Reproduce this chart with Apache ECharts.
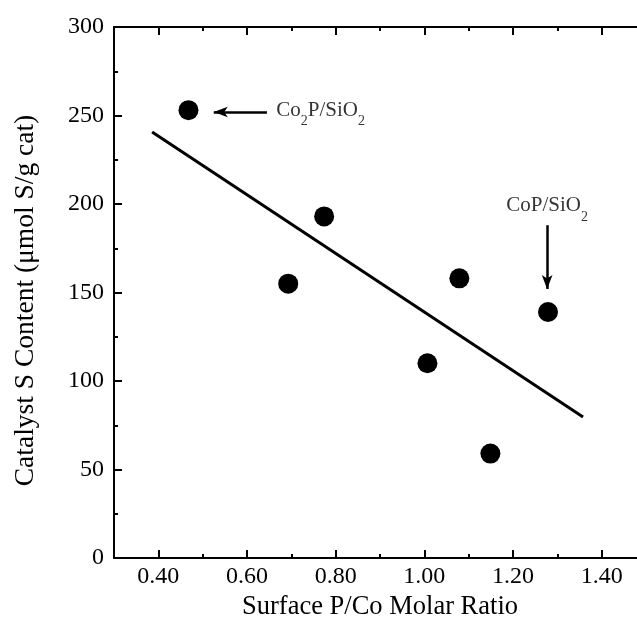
<!DOCTYPE html>
<html>
<head>
<meta charset="utf-8">
<script src="https://cdn.jsdelivr.net/npm/echarts@6/dist/echarts.min.js"></script>
<style>
html,body{margin:0;padding:0;background:#fff;}
#chart{width:637px;height:630px;}
</style>
</head>
<body>
<div id="chart"></div>
<script>
// ---- data ----
const ratioX = [0.468, 0.693, 0.774, 1.007, 1.079, 1.149, 1.279];
const sulfurY = [253, 155, 193, 110, 158, 59, 139];
const fitX = [0.386, 1.358];
const fitY = [240.7, 79.7];
const xMajorTicks = [0.40, 0.60, 0.80, 1.00, 1.20, 1.40];
const xMinorTicks = [0.50, 0.70, 0.90, 1.10, 1.30];
const xRange = [0.30, 1.50];
const yRange = [0, 300];
const yStep = 50;
const co2pLabelPos = [0.666, 253];
const co2pArrow = [[0.645, 252], [0.525, 252]];
const copLabelPos = [1.277, 199];
const copArrow = [[1.277, 188], [1.277, 152]];

const FONT = 'Liberation Serif';
const BLACK = '#000';

const chart = echarts.init(document.getElementById('chart'), null, {renderer: 'canvas'});

function xAxisDef(pos, ticks, len, showLine, showLabel) {
  return {
    type: 'value', gridIndex: 0, position: pos,
    min: xRange[0], max: xRange[1],
    axisLine: {show: showLine, onZero: false, lineStyle: {color: BLACK, width: 2}},
    axisTick: {show: true, inside: true, length: len, customValues: ticks, lineStyle: {color: BLACK, width: 2}},
    axisLabel: {show: showLabel, customValues: ticks, formatter: v => v.toFixed(2),
      color: BLACK, fontFamily: FONT, fontSize: 24, margin: 7},
    splitLine: {show: false}
  };
}

const xAxes = [
  Object.assign(xAxisDef('bottom', xMajorTicks, 8, true, true), {
    name: 'Surface P/Co Molar Ratio', nameLocation: 'middle', nameGap: 36,
    nameTextStyle: {color: BLACK, fontFamily: FONT, fontSize: 26.5}
  }),
  xAxisDef('bottom', xMinorTicks, 4, false, false),
  xAxisDef('top', xMajorTicks, 8, true, false),
  xAxisDef('top', xMinorTicks, 4, false, false)
];

function yAxisDef(pos, showLabel) {
  return {
    type: 'value', gridIndex: 0, position: pos,
    min: yRange[0], max: yRange[1], interval: yStep,
    axisLine: {show: true, onZero: false, lineStyle: {color: BLACK, width: 2}},
    axisTick: {show: true, inside: true, length: 8, lineStyle: {color: BLACK, width: 2}},
    minorTick: {show: true, splitNumber: 2, length: 4, lineStyle: {color: BLACK, width: 2}},
    axisLabel: {show: showLabel, color: BLACK, fontFamily: FONT, fontSize: 24, margin: 10},
    splitLine: {show: false}, minorSplitLine: {show: false}
  };
}

const yAxes = [
  Object.assign(yAxisDef('left', true), {
    name: 'Catalyst S Content (\u03bcmol S/g cat)', nameLocation: 'middle', nameGap: 74,
    nameTextStyle: {color: BLACK, fontFamily: FONT, fontSize: 27.5, padding: [0, 16, 0, 0]}
  }),
  yAxisDef('right', false)
];

const richText = {
  n: {fontFamily: FONT, fontSize: 21, color: BLACK},
  s: {fontFamily: FONT, fontSize: 14, color: BLACK, verticalAlign: 'bottom', padding: [0, 0, -8, 0]}
};

chart.setOption({
  animation: false,
  backgroundColor: '#fff',
  grid: {left: 114, top: 27, width: 532, height: 531, containLabel: false, outerBoundsMode: 'none'},
  xAxis: xAxes,
  yAxis: yAxes,
  series: [
    {
      name: 'fit', type: 'line', xAxisIndex: 0, yAxisIndex: 0,
      data: fitX.map((x, i) => [x, fitY[i]]),
      symbol: 'none', lineStyle: {color: BLACK, width: 3}, silent: true
    },
    {
      name: 'catalysts', type: 'scatter', xAxisIndex: 0, yAxisIndex: 0,
      data: ratioX.map((x, i) => [x, sulfurY[i]]),
      symbol: 'circle', symbolSize: 20, itemStyle: {color: BLACK, opacity: 1}
    },
    {
      name: 'annotations', type: 'scatter', xAxisIndex: 0, yAxisIndex: 0,
      symbolSize: 0, silent: true,
      data: [
        {value: co2pLabelPos, label: {show: true, position: 'right', distance: 0,
          formatter: '{n|Co}{s|2}{n|P/SiO}{s|2}', rich: richText}},
        {value: copLabelPos, label: {show: true, position: 'inside',
          formatter: '{n|CoP/SiO}{s|2}', rich: richText}}
      ],
      markLine: {
        silent: true, animation: false,
        symbol: ['none', 'arrow'], symbolSize: [8, 14],
        label: {show: false},
        lineStyle: {color: BLACK, width: 2.5, type: 'solid', opacity: 1},
        data: [
          [{coord: co2pArrow[0]}, {coord: co2pArrow[1]}],
          [{coord: copArrow[0]}, {coord: copArrow[1]}]
        ]
      }
    }
  ]
});
</script>
</body>
</html>
